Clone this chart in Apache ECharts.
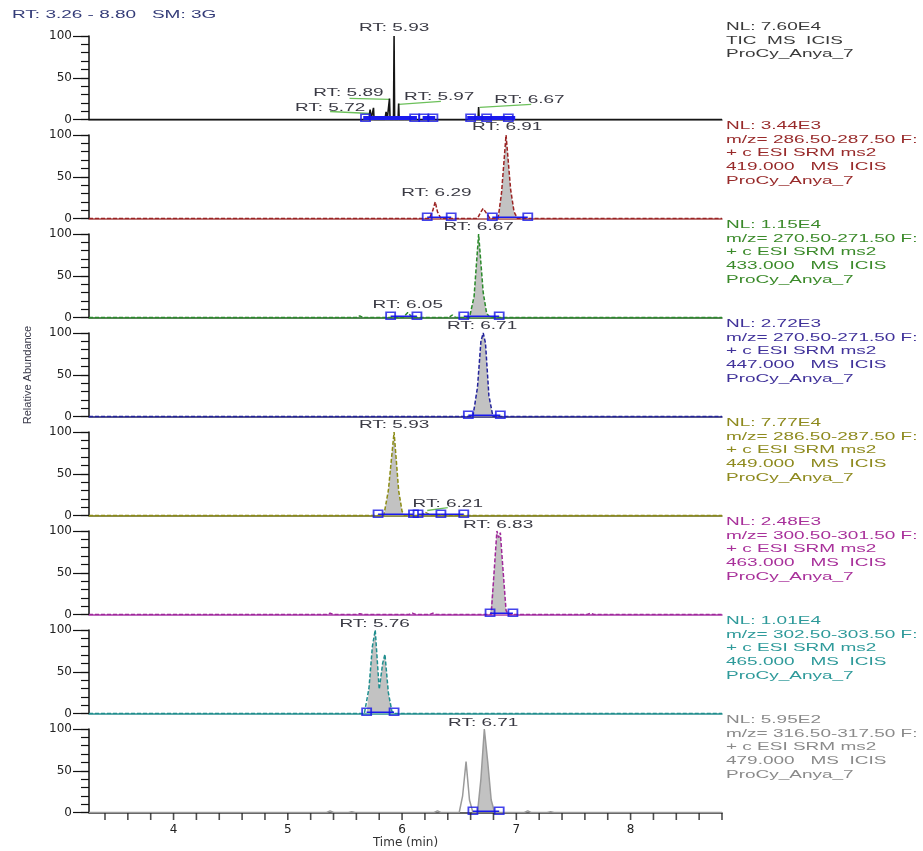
<!DOCTYPE html>
<html><head><meta charset="utf-8">
<script src="https://cdn.jsdelivr.net/npm/echarts@6/dist/echarts.min.js"></script>
<style>html,body{margin:0;padding:0;background:#fff}#c{width:923px;height:851px}</style>
</head><body><div id="c"></div>
<script>
// ---- axes ----
const xMin = 3.26, xMax = 8.80;
const xTickValues = [3.4,3.6,3.8,4.0,4.2,4.4,4.6,4.8,5.0,5.2,5.4,5.6,5.8,6.0,6.2,6.4,6.6,6.8,7.0,7.2,7.4,7.6,7.8,8.0,8.2,8.4,8.6,8.8];
const xLabelValues = [4,5,6,7,8];
const yLabelValues = [0,50,100];
const headerText = 'RT: 3.26 - 8.80   SM: 3G';

// ---- panel 1 : TIC ----
const p1Time  = [3.26,3.99,4.00,4.01,5.71,5.72,5.73,5.745,5.75,5.755,5.85,5.86,5.87,5.885,5.89,5.895,5.925,5.93,5.935,5.965,5.97,5.975,6.015,6.02,6.025,6.255,6.26,6.265,6.415,6.42,6.425,6.665,6.67,6.675,6.915,6.92,6.925,8.80];
const p1Abund = [0,0,1,0,0,12,1,1,14,0,0,9,0,0,25,0,0,100,0,0,19,0,0,4,0,0,2,0,0,2,0,0,15,0,0,3,0,0];
const p1Boxes = [5.68,6.11,6.19,6.27,6.60,6.74,6.93];
const p1BarStart = [5.66,6.18,6.57];
const p1BarEnd   = [6.13,6.29,6.99];
const p1LabelText = ['RT: 5.93','RT: 5.72','RT: 5.89','RT: 5.97','RT: 6.67'];
const p1LabelTime = [5.93,5.37,5.53,6.325,7.115];
const p1LabelAbund = [110,14.5,31.5,27.7,23];
const p1LeadT0 = [5.37,5.54,5.97,6.68];
const p1LeadV0 = [9.6,25.3,18,14.5];
const p1LeadT1 = [5.72,5.89,6.34,7.13];
const p1LeadV1 = [7.2,24,21.7,18];
const p1Info = ['NL: 7.60E4','TIC  MS  ICIS','ProCy_Anya_7'];

// ---- panel 2 ----
const p2Time  = [3.26,6.24,6.27,6.29,6.31,6.34,6.66,6.69,6.71,6.74,6.77,6.84,6.87,6.91,6.95,6.98,7.01,8.80];
const p2Abund = [0,0,10,20,8,0,0,8,12,6,0,0,30,100,35,8,0,0];
const p2Fill = [6.79,7.10];
const p2Boxes = [6.22,6.43,6.79,7.10];
const p2LinkStart = [6.22,6.79];
const p2LinkEnd   = [6.43,7.10];
const p2LabelText = ['RT: 6.91','RT: 6.29'];
const p2LabelTime = [6.92,6.30];
const p2LabelAbund = [109.5,31];
const p2Info = ['NL: 3.44E3','m/z= 286.50-287.50 F:','+ c ESI SRM ms2','419.000   MS  ICIS','ProCy_Anya_7'];

// ---- panel 3 ----
const p3Time  = [3.26,5.60,5.63,5.66,6.01,6.05,6.09,6.41,6.44,6.47,6.59,6.63,6.67,6.71,6.74,6.77,8.80];
const p3Abund = [0,0,2,0,0,6,0,0,3,0,0,25,100,30,5,0,0];
const p3Fill = [6.54,6.85];
const p3Boxes = [5.90,6.13,6.54,6.85];
const p3LinkStart = [5.90,6.54];
const p3LinkEnd   = [6.13,6.85];
const p3LabelText = ['RT: 6.67','RT: 6.05'];
const p3LabelTime = [6.67,6.05];
const p3LabelAbund = [108,15];
const p3Info = ['NL: 1.15E4','m/z= 270.50-271.50 F:','+ c ESI SRM ms2','433.000   MS  ICIS','ProCy_Anya_7'];

// ---- panel 4 ----
const p4Time  = [3.26,6.62,6.66,6.69,6.71,6.73,6.76,6.795,8.80];
const p4Abund = [0,0,35,90,100,88,25,0,0];
const p4Fill = [6.58,6.86];
const p4Boxes = [6.58,6.86];
const p4LinkStart = [6.58];
const p4LinkEnd   = [6.86];
const p4LabelText = ['RT: 6.71'];
const p4LabelTime = [6.70];
const p4LabelAbund = [108];
const p4Info = ['NL: 2.72E3','m/z= 270.50-271.50 F:','+ c ESI SRM ms2','447.000   MS  ICIS','ProCy_Anya_7'];

// ---- panel 5 ----
const p5Time  = [3.26,5.84,5.88,5.93,5.97,6.00,6.02,6.17,6.20,6.23,6.26,8.80];
const p5Abund = [0,0,30,100,30,5,0,0,4,2,0,0];
const p5Fill = [5.79,6.10];
const p5Boxes = [5.79,6.10,6.14,6.34,6.54];
const p5LinkStart = [5.79,6.14,6.34];
const p5LinkEnd   = [6.10,6.34,6.54];
const p5LabelText = ['RT: 5.93','RT: 6.21'];
const p5LabelTime = [5.93,6.40];
const p5LabelAbund = [108,14.5];
const p5LeadT0 = [6.22];
const p5LeadV0 = [6];
const p5LeadT1 = [6.40];
const p5LeadV1 = [9.5];
const p5Info = ['NL: 7.77E4','m/z= 286.50-287.50 F:','+ c ESI SRM ms2','449.000   MS  ICIS','ProCy_Anya_7'];

// ---- panel 6 ----
const p6Time  = [3.26,5.34,5.37,5.40,5.60,5.63,5.66,6.06,6.09,6.12,6.24,6.27,6.30,6.78,6.81,6.83,6.845,6.86,6.88,6.91,6.93,7.62,7.65,7.68,8.80];
const p6Abund = [0,0,1.5,0,0,1,0,0,1.5,0,0,1.5,0,0,60,100,92,98,60,5,0,0,1.5,0,0];
const p6Fill = [6.77,6.97];
const p6Boxes = [6.77,6.97];
const p6LinkStart = [6.77];
const p6LinkEnd   = [6.97];
const p6LabelText = ['RT: 6.83'];
const p6LabelTime = [6.84];
const p6LabelAbund = [107];
const p6Info = ['NL: 2.48E3','m/z= 300.50-301.50 F:','+ c ESI SRM ms2','463.000   MS  ICIS','ProCy_Anya_7'];

// ---- panel 7 ----
const p7Time  = [3.26,5.67,5.71,5.74,5.765,5.80,5.83,5.85,5.88,5.91,5.93,8.80];
const p7Abund = [0,0,30,80,100,29,60,71,25,3,0,0];
const p7Fill = [5.69,5.93];
const p7Boxes = [5.69,5.93];
const p7LinkStart = [5.69];
const p7LinkEnd   = [5.93];
const p7LabelText = ['RT: 5.76'];
const p7LabelTime = [5.76];
const p7LabelAbund = [107];
const p7Info = ['NL: 1.01E4','m/z= 302.50-303.50 F:','+ c ESI SRM ms2','465.000   MS  ICIS','ProCy_Anya_7'];

// ---- panel 8 ----
const p8Time  = [3.26,5.34,5.37,5.40,5.53,5.56,5.59,6.28,6.31,6.34,6.50,6.53,6.56,6.59,6.62,6.66,6.69,6.72,6.75,6.78,6.81,7.07,7.10,7.13,7.27,7.30,7.33,8.80];
const p8Abund = [0,0,2,0,0,1,0,0,2,0,0,20,61,15,0,0,40,100,60,15,0,0,2,0,0,1,0,0];
const p8Fill = [6.62,6.85];
const p8Boxes = [6.62,6.85];
const p8LinkStart = [6.62];
const p8LinkEnd   = [6.85];
const p8LabelText = ['RT: 6.71'];
const p8LabelTime = [6.71];
const p8LabelAbund = [107];
const p8Info = ['NL: 5.95E2','m/z= 316.50-317.50 F:','+ c ESI SRM ms2','479.000   MS  ICIS','ProCy_Anya_7'];

// ---- assemble ----
const panels = [
  {t:p1Time,y:p1Abund,fill:null,boxes:p1Boxes,ls:p1BarStart,le:p1BarEnd,lt:p1LabelText,lx:p1LabelTime,ly:p1LabelAbund,
   ld:[p1LeadT0,p1LeadV0,p1LeadT1,p1LeadV1],info:p1Info},
  {t:p2Time,y:p2Abund,fill:p2Fill,boxes:p2Boxes,ls:p2LinkStart,le:p2LinkEnd,lt:p2LabelText,lx:p2LabelTime,ly:p2LabelAbund,ld:null,info:p2Info},
  {t:p3Time,y:p3Abund,fill:p3Fill,boxes:p3Boxes,ls:p3LinkStart,le:p3LinkEnd,lt:p3LabelText,lx:p3LabelTime,ly:p3LabelAbund,ld:null,info:p3Info},
  {t:p4Time,y:p4Abund,fill:p4Fill,boxes:p4Boxes,ls:p4LinkStart,le:p4LinkEnd,lt:p4LabelText,lx:p4LabelTime,ly:p4LabelAbund,ld:null,info:p4Info},
  {t:p5Time,y:p5Abund,fill:p5Fill,boxes:p5Boxes,ls:p5LinkStart,le:p5LinkEnd,lt:p5LabelText,lx:p5LabelTime,ly:p5LabelAbund,
   ld:[p5LeadT0,p5LeadV0,p5LeadT1,p5LeadV1],info:p5Info},
  {t:p6Time,y:p6Abund,fill:p6Fill,boxes:p6Boxes,ls:p6LinkStart,le:p6LinkEnd,lt:p6LabelText,lx:p6LabelTime,ly:p6LabelAbund,ld:null,info:p6Info},
  {t:p7Time,y:p7Abund,fill:p7Fill,boxes:p7Boxes,ls:p7LinkStart,le:p7LinkEnd,lt:p7LabelText,lx:p7LabelTime,ly:p7LabelAbund,ld:null,info:p7Info},
  {t:p8Time,y:p8Abund,fill:p8Fill,boxes:p8Boxes,ls:p8LinkStart,le:p8LinkEnd,lt:p8LabelText,lx:p8LabelTime,ly:p8LabelAbund,ld:null,info:p8Info}
];

const styles = [
  {trace:'#151515', base:'#555555', text:'#3a3a3a', dash:false},
  {trace:'#9b2323', base:'#a84a4a', text:'#982a2a', dash:true},
  {trace:'#2a8a2a', base:'#1f5f1f', text:'#3b8a2a', dash:true},
  {trace:'#23239b', base:'#1e1e6e', text:'#40329a', dash:true},
  {trace:'#8c8c14', base:'#6a6a12', text:'#8e8a1e', dash:true},
  {trace:'#a0289a', base:'#a83aa8', text:'#a8309a', dash:true},
  {trace:'#1f8e8e', base:'#2a9090', text:'#2e9a9a', dash:true},
  {trace:'#9a9a9a', base:'#333333', text:'#8a8a8a', dash:false}
];

const GL = 89, GW = 633, TOP0 = 36, STEP = 99, GH = 83.5;
const FONT = 'Liberation Sans, Arial, sans-serif';
const SX = 1.65;
const N = panels.length;

const grids = [], xAxes = [], yAxes = [], yTickAxes = [], series = [];
panels.forEach((p, i) => {
  const st = styles[i];
  const last = i === N - 1;
  grids.push({left: GL, top: TOP0 + STEP * i, width: GW, height: GH});
  xAxes.push({
    type: 'value', gridIndex: i, min: xMin, max: xMax,
    axisLine: {show: true, onZero: false, lineStyle: {color: st.base, width: 1.5}},
    axisTick: {show: false},
    axisLabel: last ? {show: true, customValues: xLabelValues, fontFamily: 'DejaVu Sans', fontSize: 12, color: '#222', margin: 11,
      formatter: v => (xLabelValues.indexOf(Math.round(v * 100) / 100) >= 0 ? String(v) : '')} : {show: false},
    splitLine: {show: false},
    name: last ? 'Time (min)' : '', nameLocation: 'middle', nameGap: 24,
    nameTextStyle: {fontFamily: 'DejaVu Sans', fontSize: 12, color: '#333'}
  });
  // main y axis: short ticks every 10, labels at 0/50/100
  yAxes.push({
    type: 'value', gridIndex: i, min: 0, max: 100, interval: 10, position: 'left',
    axisLine: {show: true, lineStyle: {color: '#111', width: 1.5}},
    axisTick: {show: true, length: 8, lineStyle: {color: '#111', width: 1.2}},
    axisLabel: {fontFamily: 'DejaVu Sans', fontSize: 12, color: '#222', margin: 17,
      formatter: v => (yLabelValues.indexOf(v) >= 0 ? String(v) : '')},
    splitLine: {show: false}
  });
  // second y axis only for long ticks at labelled values
  yTickAxes.push({
    type: 'value', gridIndex: i, min: 0, max: 100, interval: 50, position: 'left', offset: 0,
    axisLine: {show: false}, axisLabel: {show: false}, splitLine: {show: false},
    axisTick: {show: true, length: 16, lineStyle: {color: '#111', width: 1.2}}
  });
  const pts = p.t.map((t, k) => [t, p.y[k]]);
  if (p.fill) {
    const fp = pts.filter(d => d[0] >= p.fill[0] && d[0] <= p.fill[1]);
    fp.unshift([p.fill[0], 0]); fp.push([p.fill[1], 0]);
    series.push({type: 'line', xAxisIndex: i, yAxisIndex: i, data: fp, symbol: 'none', z: 1,
      lineStyle: {width: 0, opacity: 0}, areaStyle: {color: '#c2c2c2', opacity: 1}, silent: true});
  }
  series.push({type: 'line', xAxisIndex: i, yAxisIndex: i, data: pts, symbol: 'none', z: 3,
    lineStyle: {color: st.trace, width: i === 0 ? 1.6 : 1.5, type: st.dash ? [4, 2] : 'solid'}});
  p.ls.forEach((s, k) => {
    const lv = i === 0 ? 1.8 : 1.5;
    series.push({type: 'line', xAxisIndex: i, yAxisIndex: i, data: [[s, lv], [p.le[k], lv]],
      symbol: 'none', z: 4, lineStyle: {color: '#1a1aee', width: i === 0 ? 4 : 1.5}});
  });
  series.push({type: 'scatter', xAxisIndex: i, yAxisIndex: i, data: p.boxes.map(b => [b, 2]),
    symbol: 'rect', symbolSize: [9, 7], z: 5,
    itemStyle: {color: 'rgba(255,255,255,0)', borderColor: '#1515e6', borderWidth: 1.6}});
  if (p.ld) {
    p.ld[0].forEach((t0, k) => {
      series.push({type: 'line', xAxisIndex: i, yAxisIndex: i, data: [[t0, p.ld[1][k]], [p.ld[2][k], p.ld[3][k]]],
        symbol: 'none', z: 2, lineStyle: {color: '#6cc05a', width: 1.3}});
    });
  }
});
// bottom time-axis ticks every 0.2 min, placed through the x scale
series.push({type: 'scatter', xAxisIndex: N - 1, yAxisIndex: N - 1, clip: false, silent: true,
  data: xTickValues.map(v => [v, 0]), symbol: 'rect', symbolSize: [1.6, 7], symbolOffset: [0, 4], z: 6,
  itemStyle: {color: '#222'}});

const option = {
  animation: false,
  backgroundColor: '#ffffff',
  grid: grids, xAxis: xAxes, yAxis: yAxes.concat(yTickAxes), series: series
};

const chart = echarts.init(document.getElementById('c'));
chart.setOption(option);

const gfx = [];
gfx.push({type: 'text', x: 12, y: 15, scaleX: SX,
  style: {text: headerText, x: 0, y: 0, textAlign: 'left', align: 'left', textVerticalAlign: 'middle', verticalAlign: 'middle',
    fontSize: 11.5, fontFamily: FONT, fill: '#343c78'}});
gfx.push({type: 'text', x: 28, y: 375, rotation: Math.PI / 2, scaleX: 1.1,
  style: {text: 'Relative Abundance', x: 0, y: 0, textAlign: 'center', align: 'center', textVerticalAlign: 'middle', verticalAlign: 'middle',
    fontSize: 10, fontFamily: FONT, fill: '#3a3a4a'}});
panels.forEach((p, i) => {
  const top = TOP0 + STEP * i;
  p.info.forEach((line, k) => {
    gfx.push({type: 'text', x: 726, y: top - 9 + k * 13.6, scaleX: SX,
      style: {text: line, x: 0, y: 0, textAlign: 'left', align: 'left', textVerticalAlign: 'middle', verticalAlign: 'middle',
        fontSize: 11.5, fontFamily: FONT, fill: styles[i].text}});
  });
  p.lt.forEach((txt, k) => {
    const px = chart.convertToPixel({gridIndex: i}, [p.lx[k], p.ly[k]]);
    gfx.push({type: 'text', x: px[0], y: px[1], scaleX: SX, z: 10,
      style: {text: txt, x: 0, y: 0, textAlign: 'center', align: 'center', textVerticalAlign: 'middle', verticalAlign: 'middle',
        fontSize: 11.5, fontFamily: FONT, fill: '#3a3a44'}});
  });
});
chart.setOption({graphic: gfx});
</script>
</body></html>
